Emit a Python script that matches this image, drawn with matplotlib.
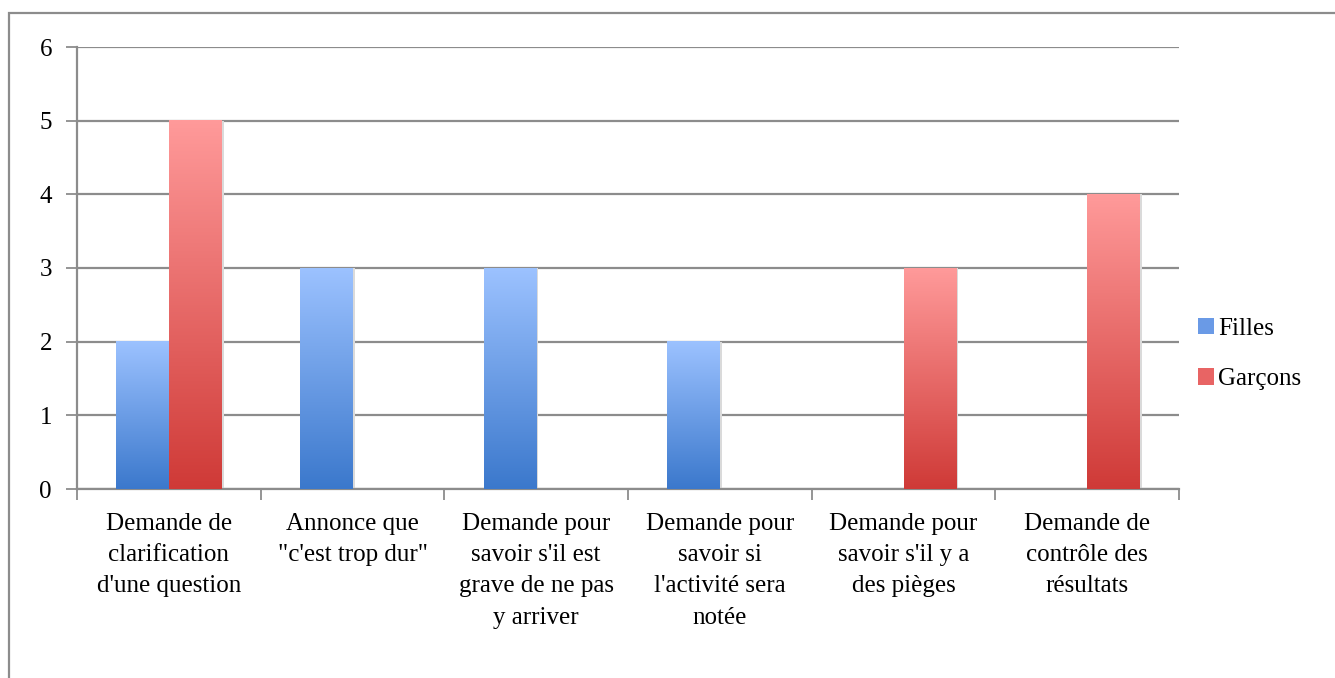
import numpy as np
import matplotlib.pyplot as plt
from matplotlib.patches import Rectangle, Patch
from matplotlib.colors import LinearSegmentedColormap

categories = ["Demande de\nclarification\nd'une question",
              "Annonce que\n\"c'est trop dur\"",
              "Demande pour\nsavoir s'il est\ngrave de ne pas\ny arriver",
              "Demande pour\nsavoir si\nl'activité sera\nnotée",
              "Demande pour\nsavoir s'il y a\ndes pièges",
              "Demande de\ncontrôle des\nrésultats"]
filles = [2, 3, 3, 2, 0, 0]
garcons = [5, 0, 0, 0, 3, 4]
series_names = ["Filles", "Garçons"]

plt.rcParams['font.family'] = ['Liberation Serif', 'DejaVu Serif']

W, H = 1335, 678
fig = plt.figure(figsize=(W / 100, H / 100), dpi=100)
ax = fig.add_axes([77 / W, 1 - 489 / H, (1179 - 77) / W, (489 - 47) / H])

grid_c = "#8c8c8c"
fs = 18
blue_cm = LinearSegmentedColormap.from_list("b", ["#3b78cc", "#9cc2ff"])
red_cm = LinearSegmentedColormap.from_list("r", ["#cf3a37", "#ff9a9a"])

x = np.arange(len(categories))
w = 1 / 3.5
b1 = ax.bar(x - w / 2, filles, w, facecolor="none", edgecolor="none", zorder=3)
b2 = ax.bar(x + w / 2, garcons, w, facecolor="none", edgecolor="none", zorder=3)

grad = np.linspace(0, 1, 256).reshape(-1, 1)
for bars, cm in ((b1, blue_cm), (b2, red_cm)):
    for p in bars:
        h = p.get_height()
        if h <= 0:
            continue
        x0 = p.get_x()
        ax.imshow(grad, cmap=cm, origin="lower", aspect="auto",
                  extent=(x0, x0 + p.get_width(), 0, h), zorder=3)
        # soft shadow on the right
        ax.add_patch(Rectangle((x0 + p.get_width(), 0), 0.012, h,
                               facecolor="#dadada", edgecolor="none", zorder=2))

ax.set_xlim(-0.5, len(categories) - 0.5)
ax.set_ylim(0, 6)
ax.set_yticks(range(0, 7))
ax.yaxis.grid(True, color=grid_c, linewidth=1.6, zorder=1)
ax.set_axisbelow(True)

ax.set_xticks(np.arange(-0.5, len(categories), 1))
ax.set_xticklabels([])
ax.set_xticks(x, minor=True)
ax.set_xticklabels(categories, minor=True, fontsize=fs, linespacing=1.55)
ax.tick_params(axis="x", which="minor", length=0, pad=17)
ax.tick_params(axis="x", which="major", length=8, color=grid_c, width=1.3)
ax.tick_params(axis="y", length=8, color=grid_c, width=1.3, pad=10, labelsize=fs)

for s in ("top", "right"):
    ax.spines[s].set_visible(False)
for s in ("left", "bottom"):
    ax.spines[s].set_color(grid_c)
    ax.spines[s].set_linewidth(1.6)

# legend
handles = [Patch(facecolor="#6a9ae6", edgecolor="none"),
           Patch(facecolor="#e86464", edgecolor="none")]
fig.legend(handles, series_names, loc="center left",
           bbox_to_anchor=(1188 / W, 1 - 354 / H), frameon=False,
           fontsize=fs, handlelength=0.65, handleheight=0.65,
           handletextpad=0.15, labelspacing=1.15, borderaxespad=0)

# outer frame
fig.add_artist(Rectangle((9 / W, -0.1), 1.2, 1.1 - 13 / H, transform=fig.transFigure,
                         facecolor="none", edgecolor=grid_c, linewidth=1.6))

fig.savefig("out.png", dpi=100)
